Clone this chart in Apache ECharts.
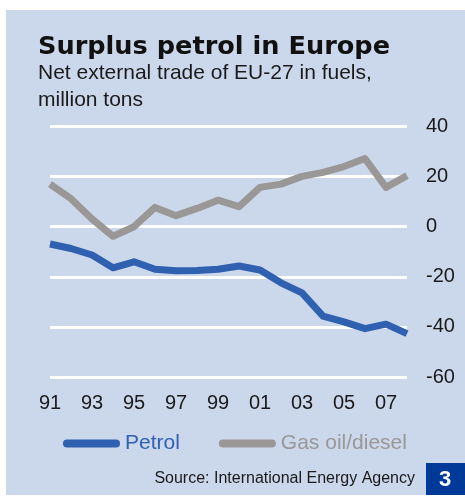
<!DOCTYPE html>
<html><head><meta charset="utf-8">
<script src="https://cdn.jsdelivr.net/npm/echarts@6/dist/echarts.min.js"></script>
<style>html,body{margin:0;padding:0;background:#fff;}#c{width:465px;height:497px;}</style>
</head><body><div id="c"></div>
<script>
var years = ['91','92','93','94','95','96','97','98','99','00','01','02','03','04','05','06','07','08'];
var petrol = [-6.9,-8.7,-11.3,-16.4,-14,-17,-17.6,-17.5,-17,-15.7,-17.3,-22.4,-26.4,-35.7,-38,-40.7,-38.9,-42.7];
var gasoil = [17,11.2,3.1,-3.8,0,7.7,4.4,7.3,10.6,8,15.7,17,20.1,21.7,24,27.2,15.7,20.4];
var yTicks = [-60,-40,-20,0,20,40];
var seriesNames = ['Petrol','Gas oil/diesel'];

var BLUE = '#3060b0', GRAY = '#9a9896', TXT = '#1a1a1a', FONT = '"Liberation Sans", Arial, sans-serif';
var chart = echarts.init(document.getElementById('c'), null, {renderer:'canvas'});
var capsule = 'path://M4,0 L53,0 A4,4 0 0 1 53,8 L4,8 A4,4 0 0 1 4,0 Z';
chart.setOption({
  animation:false,
  backgroundColor:'#fff',
  graphic:[
    {type:'rect', z:-10, silent:true, shape:{x:6,y:10,width:459,height:485}, style:{fill:'#cbd7ea'}},
    {type:'text', x:415, y:479, style:{text:'Source: International Energy Agency', fill:TXT, font:'16px '+FONT, align:'right', verticalAlign:'middle'}},
    {type:'rect', shape:{x:426,y:463,width:39,height:32}, style:{fill:'#003a99'}},
    {type:'text', x:445, y:480, style:{text:'3', fill:'#fff', font:'bold 22px '+FONT, align:'center', verticalAlign:'middle'}}
  ],
  title:[
    {text:'Surplus petrol in Europe', left:38, top:32, padding:0,
     textStyle:{fontFamily:'"DejaVu Sans", sans-serif', fontWeight:'bold', fontSize:25.6, color:'#111', lineHeight:30}},
    {text:'Net external trade of EU-27 in fuels,\nmillion tons', left:38, top:60, padding:0,
     textStyle:{fontFamily:FONT, fontWeight:'normal', fontSize:21, color:TXT, lineHeight:27}}
  ],
  legend:{
    left:63, top:433, itemWidth:57, itemHeight:8, itemGap:39, padding:0,
    textStyle:{fontFamily:FONT, fontSize:21},
    data:[
      {name:seriesNames[0], icon:capsule, textStyle:{color:BLUE}, itemStyle:{color:BLUE}},
      {name:seriesNames[1], icon:capsule, textStyle:{color:GRAY}, itemStyle:{color:GRAY}}
    ]
  },
  grid:{left:50, right:58, top:126.5, bottom:120, containLabel:false},
  xAxis:{
    type:'category', data:years, boundaryGap:false,
    axisLine:{show:false}, axisTick:{show:false}, splitLine:{show:false},
    axisLabel:{interval:1, margin:16, color:TXT, fontFamily:FONT, fontSize:20}
  },
  yAxis:{
    type:'value', position:'right', min:yTicks[0], max:yTicks[yTicks.length-1], interval:20,
    axisLine:{show:false}, axisTick:{show:false},
    splitLine:{lineStyle:{color:'#ffffff', width:3}},
    axisLabel:{margin:19, color:TXT, fontFamily:FONT, fontSize:20}
  },
  series:[
    {name:seriesNames[1], type:'line', data:gasoil, symbol:'none', lineStyle:{color:GRAY, width:7, join:'round'}, itemStyle:{color:GRAY}, z:2},
    {name:seriesNames[0], type:'line', data:petrol, symbol:'none', lineStyle:{color:BLUE, width:7, join:'round'}, itemStyle:{color:BLUE}, z:3}
  ]
});
</script></body></html>
